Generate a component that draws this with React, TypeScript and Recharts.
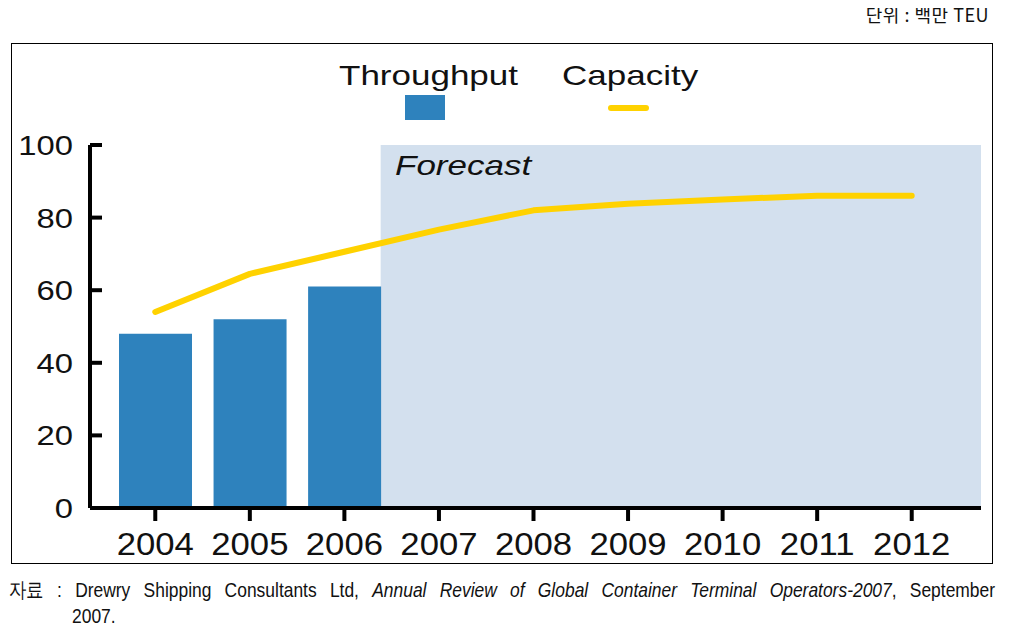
import { ComposedChart, Bar, Line, XAxis, YAxis, ReferenceArea } from 'recharts'

const years = ['2004', '2005', '2006', '2007', '2008', '2009', '2010', '2011', '2012']
const throughput = [48, 52, 61]
const capacity = [54, 64.5, 70.6, 76.7, 82, 83.8, 85, 86, 86]
const yTicks = [0, 20, 40, 60, 80, 100]

const data = years.map((year, i) => ({ year, throughput: throughput[i], capacity: capacity[i] }))

const SANS = '"Liberation Sans", Arial, sans-serif'
const BLUE = '#2E82BD'
const YELLOW = '#FFD200'
const SHADE = '#D3E0EE'
const GAP = 11
const PAD_R = 22

function YTick(props: any) {
  const { x, y, payload } = props
  return (
    <g>
      {payload.value > 0 && <line x1={x} x2={x + 12} y1={y} y2={y} stroke="#000" strokeWidth={4} />}
      <text
        transform={`translate(${x - 17},${y + 10}) scale(1.17,1)`}
        textAnchor="end"
        fontSize={28}
        fontFamily={SANS}
        fill="#111"
      >
        {payload.value}
      </text>
    </g>
  )
}

function XTick(props: any) {
  const { x, y, payload } = props
  return (
    <g>
      <line x1={x} x2={x} y1={y} y2={y + 13} stroke="#000" strokeWidth={4} />
      <text
        transform={`translate(${x},${y + 47}) scale(1.12,1)`}
        textAnchor="middle"
        fontSize={31}
        fontFamily={SANS}
        fill="#111"
      >
        {payload.value}
      </text>
    </g>
  )
}

function ForecastShade(props: any) {
  const { x, y, width, height } = props
  return <rect x={x - GAP} y={y} width={width + GAP + PAD_R} height={height} fill={SHADE} />
}

const stretch = (s: number): React.CSSProperties => ({
  display: 'inline-block',
  transform: `scaleX(${s})`,
  transformOrigin: 'left top',
  whiteSpace: 'nowrap',
})

export default function App() {
  return (
    <div style={{ position: 'relative', width: 1017, height: 633, margin: -8, background: '#fff' }}>
      <div
        style={{
          position: 'absolute',
          right: 28,
          top: 3,
          fontFamily: '"Noto Sans CJK KR", sans-serif',
          fontSize: 18,
          lineHeight: '22px',
          letterSpacing: 0.5,
          color: '#111',
          whiteSpace: 'nowrap',
        }}
      >
        단위 : 백만 TEU
      </div>

      <div
        style={{
          position: 'absolute',
          left: 11,
          top: 43,
          width: 982,
          height: 521,
          border: '1.5px solid #000',
          boxSizing: 'border-box',
        }}
      />

      <div style={{ position: 'absolute', left: 0, top: 0 }}>
        <ComposedChart width={1017} height={633} data={data} margin={{ top: 145, right: 36, bottom: 75, left: 0 }}>
          <ReferenceArea x1="2007" x2="2012" shape={<ForecastShade />} ifOverflow="visible" />
          <XAxis
            dataKey="year"
            height={50}
            interval={0}
            padding={{ left: 18, right: PAD_R }}
            axisLine={{ stroke: '#000', strokeWidth: 4 }}
            tickLine={false}
            tickSize={0}
            tickMargin={0}
            tick={<XTick />}
          />
          <YAxis
            width={90}
            domain={[0, 100]}
            ticks={yTicks}
            axisLine={{ stroke: '#000', strokeWidth: 4 }}
            tickLine={false}
            tickSize={0}
            tickMargin={0}
            tick={<YTick />}
          />
          <Bar dataKey="throughput" fill={BLUE} barSize={73} isAnimationActive={false} />
          <Line
            dataKey="capacity"
            type="linear"
            stroke={YELLOW}
            strokeWidth={6}
            strokeLinecap="round"
            strokeLinejoin="round"
            dot={false}
            activeDot={false}
            isAnimationActive={false}
          />
        </ComposedChart>
      </div>

      {/* legend */}
      <div style={{ position: 'absolute', left: 339, top: 62, fontFamily: SANS, fontSize: 28, lineHeight: '28px', color: '#111' }}>
        <span style={stretch(1.25)}>Throughput</span>
      </div>
      <div style={{ position: 'absolute', left: 405, top: 95, width: 40, height: 25, background: BLUE }} />
      <div style={{ position: 'absolute', left: 562, top: 62, fontFamily: SANS, fontSize: 28, lineHeight: '28px', color: '#111' }}>
        <span style={stretch(1.25)}>Capacity</span>
      </div>
      <div style={{ position: 'absolute', left: 608, top: 105, width: 41, height: 6, borderRadius: 3, background: YELLOW }} />

      <div
        style={{
          position: 'absolute',
          left: 395,
          top: 152,
          fontFamily: SANS,
          fontSize: 28,
          lineHeight: '28px',
          fontStyle: 'italic',
          color: '#111',
        }}
      >
        <span style={stretch(1.25)}>Forecast</span>
      </div>

      {/* source note */}
      <div
        style={{
          position: 'absolute',
          left: 9,
          top: 579,
          width: 1188,
          transform: 'scaleX(0.83)',
          transformOrigin: 'left top',
          fontFamily: SANS,
          fontSize: 21,
          lineHeight: '21px',
          color: '#111',
          whiteSpace: 'nowrap',
          textAlign: 'justify',
          textAlignLast: 'justify',
        }}
      >
        자료 : Drewry Shipping Consultants Ltd, <i>Annual Review of Global Container Terminal Operators-2007</i>, September
      </div>
      <div
        style={{
          position: 'absolute',
          left: 72,
          top: 605,
          transform: 'scaleX(0.83)',
          transformOrigin: 'left top',
          fontFamily: SANS,
          fontSize: 21,
          lineHeight: '21px',
          color: '#111',
          whiteSpace: 'nowrap',
        }}
      >
        2007.
      </div>
    </div>
  )
}
